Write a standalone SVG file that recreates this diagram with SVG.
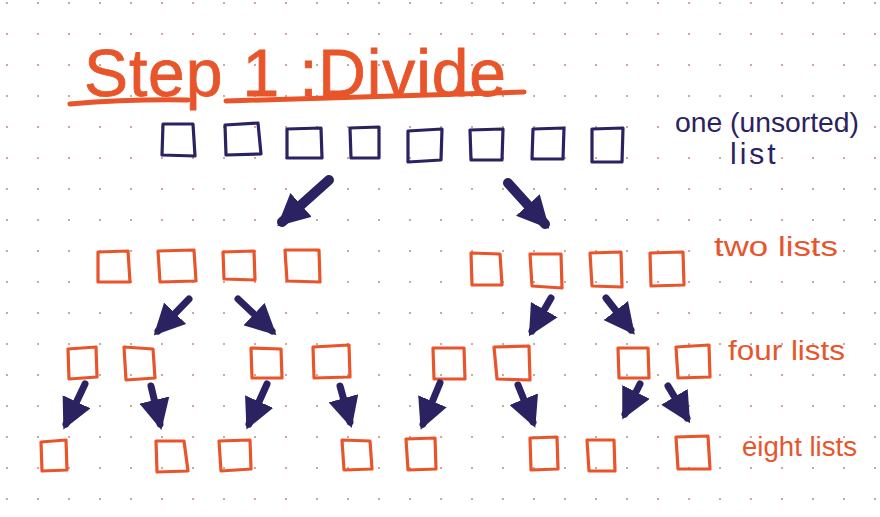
<svg xmlns="http://www.w3.org/2000/svg" width="880" height="517" viewBox="0 0 880 517">
<style>
.nb{fill:none;stroke:#2b2262;stroke-width:3.2;stroke-linejoin:round}
.ob{fill:none;stroke:#e8552b;stroke-width:3.2;stroke-linejoin:round}
.ar{stroke:#2b2262;stroke-width:7;stroke-linecap:round;fill:none}
.ab{stroke:#2b2262;stroke-width:10;stroke-linecap:round;fill:none}
.ot{fill:#e8552b;font-family:"Liberation Sans",sans-serif}
.nt{fill:#2b2262;font-family:"Liberation Sans",sans-serif}
</style>
<defs>
<pattern id="dots" x="6" y="2" width="31" height="31" patternUnits="userSpaceOnUse">
<circle cx="1" cy="1" r="1" fill="#c98578"/>
</pattern>
<marker id="ah" viewBox="0 0 10 10" refX="8" refY="5" markerWidth="4.4" markerHeight="4.4" orient="auto">
<path d="M0 0 L10 5 L0 10 Z" fill="#2b2262"/>
</marker>
<marker id="ahb" viewBox="0 0 10 10" refX="8" refY="5" markerWidth="3.2" markerHeight="3.2" orient="auto">
<path d="M0 0 L10 5 L0 10 Z" fill="#2b2262"/>
</marker>
</defs>
<rect width="880" height="517" fill="#ffffff"/>
<rect width="880" height="517" fill="url(#dots)"/>
<g id="title">
<text class="ot" x="84" y="96" font-size="66" stroke="#e8552b" stroke-width="0.8" textLength="422" lengthAdjust="spacing">Step 1 :Divide</text>
<path d="M70 104 Q130 99 188 100" stroke="#e8552b" stroke-width="5" fill="none" stroke-linecap="round"/>
<path d="M226 101 Q380 96 524 92" stroke="#e8552b" stroke-width="5" fill="none" stroke-linecap="round"/>
</g>
<g id="row1">
<path class="nb" d="M163 124 L193 124 L195 156 L162 155 Z"/>
<path class="nb" d="M225 125 L258 123 L261 154 L226 155 Z"/>
<path class="nb" d="M287 129 L321 128 L322 158 L287 158 Z"/>
<path class="nb" d="M350 128 L379 127 L379 158 L351 158 Z"/>
<path class="nb" d="M408 131 L442 129 L441 160 L408 162 Z"/>
<path class="nb" d="M470 130 L503 129 L502 160 L471 160 Z"/>
<path class="nb" d="M533 129 L564 128 L563 159 L532 159 Z"/>
<path class="nb" d="M592 129 L623 128 L622 162 L592 162 Z"/>
</g>
<g id="label1">
<text class="nt" x="675" y="132" font-size="28" textLength="184" lengthAdjust="spacingAndGlyphs">one (unsorted)</text>
<text class="nt" x="730" y="164" font-size="30" letter-spacing="3">list</text>
</g>
<g id="row2">
<path class="ob" d="M98 252 L128 251 L130 282 L98 282 Z"/>
<path class="ob" d="M158 251 L194 250 L196 281 L160 282 Z"/>
<path class="ob" d="M223 252 L254 251 L255 280 L224 279 Z"/>
<path class="ob" d="M285 250 L319 250 L320 282 L287 281 Z"/>
<path class="ob" d="M471 253 L500 254 L502 285 L472 285 Z"/>
<path class="ob" d="M530 254 L561 254 L562 288 L532 286 Z"/>
<path class="ob" d="M590 253 L621 252 L622 287 L592 286 Z"/>
<path class="ob" d="M650 253 L683 252 L684 285 L651 286 Z"/>
</g>
<g id="label2"><text class="ot" x="714" y="256" font-size="27" textLength="124" lengthAdjust="spacingAndGlyphs">two lists</text></g>
<g id="row3">
<path class="ob" d="M68 349 L96 347 L97 377 L69 379 Z"/>
<path class="ob" d="M124 347 L153 349 L155 378 L126 380 Z"/>
<path class="ob" d="M251 348 L281 349 L282 378 L252 378 Z"/>
<path class="ob" d="M313 347 L349 345 L350 377 L314 378 Z"/>
<path class="ob" d="M433 348 L464 348 L465 379 L434 379 Z"/>
<path class="ob" d="M494 347 L529 346 L530 380 L497 379 Z"/>
<path class="ob" d="M618 348 L648 348 L649 378 L619 378 Z"/>
<path class="ob" d="M676 347 L709 345 L710 377 L678 378 Z"/>
</g>
<g id="label3"><text class="ot" x="728" y="360" font-size="27" textLength="117" lengthAdjust="spacingAndGlyphs">four lists</text></g>
<g id="row4">
<path class="ob" d="M41 442 L66 440 L67 470 L42 471 Z"/>
<path class="ob" d="M156 441 L184 441 L188 471 L157 472 Z"/>
<path class="ob" d="M219 441 L250 440 L251 469 L221 471 Z"/>
<path class="ob" d="M342 440 L370 441 L372 469 L344 470 Z"/>
<path class="ob" d="M406 439 L435 438 L436 469 L408 470 Z"/>
<path class="ob" d="M530 438 L557 437 L558 469 L531 470 Z"/>
<path class="ob" d="M587 440 L614 440 L615 471 L589 471 Z"/>
<path class="ob" d="M676 437 L708 436 L710 469 L678 469 Z"/>
</g>
<g id="label4"><text class="ot" x="742" y="456" font-size="27" textLength="115" lengthAdjust="spacingAndGlyphs">eight lists</text></g>
<g id="connectors">
<path class="ab" marker-end="url(#ahb)" d="M329 180 L282 222"/>
<path class="ab" marker-end="url(#ahb)" d="M508 183 L545 224"/>
<path class="ar" marker-end="url(#ah)" d="M189 299 L158 331"/>
<path class="ar" marker-end="url(#ah)" d="M238 299 L272 331"/>
<path class="ar" marker-end="url(#ah)" d="M551 298 L532 331"/>
<path class="ar" marker-end="url(#ah)" d="M606 298 L631 330"/>
<path class="ar" marker-end="url(#ah)" d="M85 384 L66 424"/>
<path class="ar" marker-end="url(#ah)" d="M151 386 L160 424"/>
<path class="ar" marker-end="url(#ah)" d="M267 384 L249 424"/>
<path class="ar" marker-end="url(#ah)" d="M340 386 L350 422"/>
<path class="ar" marker-end="url(#ah)" d="M440 383 L423 424"/>
<path class="ar" marker-end="url(#ah)" d="M518 385 L533 422"/>
<path class="ar" marker-end="url(#ah)" d="M640 384 L625 414"/>
<path class="ar" marker-end="url(#ah)" d="M668 386 L687 418"/>
</g>
</svg>
